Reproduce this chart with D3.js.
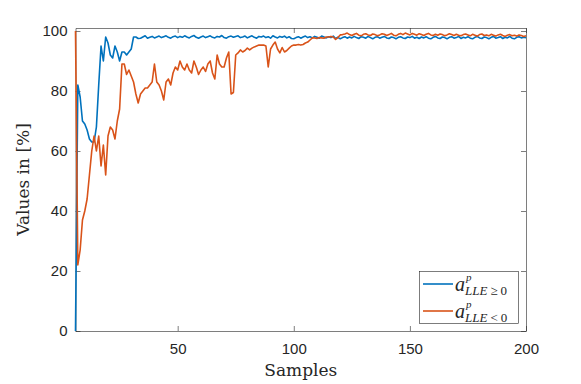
<!DOCTYPE html>
<html>
<head>
<meta charset="utf-8">
<script src="https://cdn.jsdelivr.net/npm/d3@7"></script>
<style>
  body { margin: 0; background: #fff; }
  svg { display: block; }
</style>
</head>
<body>
<div class="chart"></div>
<script>
// samples run from 6 to 200
const sampleStart = 6
const sampleEnd = 200

// a^p_{LLE>=0}  (blue)
const lleNonNeg = [
  0, 82, 78, 70, 69, 67, 64, 63, 63, 68,
  82, 95, 90, 98, 96, 92, 91, 95, 93, 90,
  93, 93, 92, 93, 94, 98, 98, 97.5, 97.6, 98,
  98.4, 97.6, 97.9, 98.2, 97.7, 98, 98.3, 97.8, 98.1, 98.4,
  97.9, 97.6, 98.1, 98.3, 97.8, 98.2, 97.9, 98.4, 98, 97.7,
  98.2, 98.5, 97.9, 97.6, 98, 98.3, 97.8, 98.1, 98.4, 97.9,
  97.7, 98.2, 98, 98.5, 97.8, 97.6, 98.1, 98.3, 97.9, 98.2,
  98.4, 97.8, 98, 98.3, 97.7, 98.1, 98.4, 97.9, 97.6, 98.2,
  98, 98.3, 97.8, 98.1, 97.6, 98.4, 98, 97.7, 98.2, 97.9,
  98.3, 97.7, 98.1, 97.5, 97.4, 97.8, 98.1, 97.6, 98, 98.3,
  97.8, 98.1, 97.7, 98.2, 97.9, 97.6, 98.3, 98, 97.7, 98.1,
  97.8, 98.3, 97.5, 97.9, 97.4, 97.8, 98.1, 97.6, 98, 97.7,
  98.2, 97.8, 97.5, 98.1, 97.9, 97.6, 98.2, 97.8, 97.4, 97.9,
  98.1, 97.6, 97.9, 98.2, 97.7, 97.5, 98, 97.8, 97.4, 97.9,
  98.1, 97.7, 97.5, 98, 97.8, 98.2, 97.6, 97.9, 97.5, 98,
  97.7, 98.1, 97.6, 97.4, 97.9, 98.2, 97.7, 97.5, 98, 97.8,
  97.4, 97.9, 98.1, 97.6, 97.8, 98.2, 97.5, 97.9, 97.7, 98.1,
  97.6, 97.4, 97.9, 98.2, 97.7, 97.5, 98, 97.8, 97.4, 97.9,
  98.2, 97.6, 97.8, 98.1, 97.5, 97.9, 97.7, 98.2, 97.6, 97.4,
  97.9, 98.1, 97.7, 97.9, 97.8
]

// a^p_{LLE<0}  (orange)
const lleNeg = [
  100, 22, 27, 37, 40, 44, 52, 60, 65, 60,
  65, 55, 62, 52, 65, 68, 67, 64, 70, 74,
  89, 89, 85.5, 87, 85, 83, 79, 76, 79, 80,
  81, 81, 82, 83, 89, 83, 82, 80, 77, 83,
  84, 82, 86, 88, 87, 90, 88, 87, 89, 87,
  86, 90, 88, 85.5, 87, 88, 86.5, 89, 90, 86,
  84, 92, 89, 88, 88, 91, 93, 79, 79.5, 92,
  92.7, 93.7, 93, 93.5, 94.3, 93.7, 94.3, 94.7, 95, 95.3,
  95.3, 95.3, 95, 88, 94, 95.3, 96.3, 94, 92.7, 94.5,
  93, 93.5, 94.3, 95, 95.3, 95.3, 95.5, 95.3, 95.5, 96,
  96.3, 97, 97.7, 97.7, 97.5, 97.8, 97.7, 97.6, 98, 98,
  98.2, 98, 97.2, 97.8, 98.7, 98.8, 99, 99.3, 98.8, 98.5,
  98.9, 99.2, 98.6, 98.4, 98.9, 99.1, 98.7, 98.5, 99, 98.8,
  98.4, 98.7, 99.1, 98.9, 98.5, 98.8, 99.2, 98.6, 98.4, 98.9,
  99.2, 98.8, 99.3, 99, 98.7, 99.2, 98.9, 98.6, 99.1, 98.8,
  98.5, 98.9, 99.2, 98.7, 98.5, 98.9, 98.6, 99, 98.8, 98.4,
  98.7, 99.1, 98.8, 98.5, 98.9, 98.6, 98.4, 98.8, 99, 98.7,
  98.4, 98.9, 98.6, 98.3, 98.8, 99, 98.5, 98.7, 98.4, 98.9,
  98.6, 98.3, 98.7, 98.9, 98.5, 98.2, 98.6, 98.8, 98.4, 98.6,
  98.3, 98.7, 98.5, 98.2, 98.4
]

const xTicks = [50, 100, 150, 200]
const yTicks = [0, 20, 40, 60, 80, 100]

const samples = d3.range(sampleStart, sampleEnd + 1)

const width = 581
const height = 384
const box = { left: 75.5, right: 526, top: 28, bottom: 331 }

const svg = d3.select(".chart")
  .append("svg")
  .attr("width", width)
  .attr("height", height)

const x = d3.scaleLinear()
  .domain([sampleStart, sampleEnd])
  .range([box.left, box.right])

const y = d3.scaleLinear()
  .domain([0, 101])
  .range([box.bottom, box.top])

const axisColor = "#262626"
const tickFont = "'Liberation Sans', Arial, sans-serif"
const serif = "'DejaVu Serif', 'Liberation Serif', serif"
const mathFont = "'Liberation Serif', serif"

// axes (box on, ticks pointing in)
const gx = svg.append("g")
  .attr("transform", `translate(0,${box.bottom})`)
  .call(d3.axisBottom(x).tickValues(xTicks).tickSizeInner(-5).tickSizeOuter(0).tickPadding(12))
const gxTop = svg.append("g")
  .attr("transform", `translate(0,${box.top})`)
  .call(d3.axisTop(x).tickValues(xTicks).tickSizeInner(-5).tickSizeOuter(0).tickFormat(""))
const gy = svg.append("g")
  .attr("transform", `translate(${box.left},0)`)
  .call(d3.axisLeft(y).tickValues(yTicks).tickSizeInner(-5).tickSizeOuter(0).tickPadding(8))
const gyRight = svg.append("g")
  .attr("transform", `translate(${box.right},0)`)
  .call(d3.axisRight(y).tickValues(yTicks).tickSizeInner(-5).tickSizeOuter(0).tickFormat(""))

for (const g of [gx, gxTop, gy, gyRight]) {
  g.select(".domain").attr("stroke", axisColor).attr("stroke-width", 0.6)
  g.selectAll(".tick line").attr("stroke", axisColor).attr("stroke-width", 0.6)
  g.selectAll(".tick text")
    .attr("fill", axisColor)
    .style("font-family", tickFont)
    .style("font-size", "15px")
}

// series
const line = d3.line()
  .x((d, i) => x(samples[i]))
  .y(d => y(d))

const series = [
  { values: lleNonNeg, color: "#0072BD" },
  { values: lleNeg, color: "#D95319" }
]

svg.append("g")
  .selectAll("path")
  .data(series)
  .enter()
  .append("path")
    .attr("d", d => line(d.values))
    .attr("fill", "none")
    .attr("stroke", d => d.color)
    .attr("stroke-width", 1.6)
    .attr("stroke-linejoin", "round")

// axis titles
svg.append("text")
  .attr("x", (box.left + box.right) / 2)
  .attr("y", 376)
  .attr("text-anchor", "middle")
  .style("font-family", serif)
  .style("font-size", "17px")
  .attr("fill", axisColor)
  .text("Samples")

svg.append("text")
  .attr("transform", `translate(29,${(box.top + box.bottom) / 2}) rotate(-90)`)
  .attr("text-anchor", "middle")
  .style("font-family", serif)
  .style("font-size", "17px")
  .attr("fill", axisColor)
  .text("Values in [%]")

// legend
const legend = svg.append("g")
legend.append("rect")
  .attr("x", 419.5).attr("y", 271.5)
  .attr("width", 99).attr("height", 52)
  .attr("fill", "#fff")
  .attr("stroke", axisColor)
  .attr("stroke-width", 0.6)

const legendItems = [
  { color: "#0072BD", rel: "\u2265", y: 284 },
  { color: "#D95319", rel: "<", y: 311 }
]

legendItems.forEach(item => {
  legend.append("line")
    .attr("x1", 423).attr("x2", 453)
    .attr("y1", item.y).attr("y2", item.y)
    .attr("stroke", item.color)
    .attr("stroke-width", 1.6)
  // a^p_{LLE..0} as one text: base, superscript, then subscript under it
  const t = legend.append("text")
    .attr("x", 455).attr("y", item.y + 7)
    .style("font-family", mathFont)
    .attr("fill", axisColor)
  t.append("tspan").style("font-style", "italic").style("font-size", "20px").text("a")
  t.append("tspan").attr("x", 466).attr("dy", -10)
    .style("font-style", "italic").style("font-size", "11px").text("p")
  t.append("tspan").attr("x", 465).attr("dy", 14)
    .style("font-style", "italic").style("font-size", "13px").text("LLE")
  t.append("tspan").attr("dx", 3).style("font-size", "13px").text(item.rel)
  t.append("tspan").attr("dx", 3).style("font-size", "13px").text("0")
})
</script>
</body>
</html>
